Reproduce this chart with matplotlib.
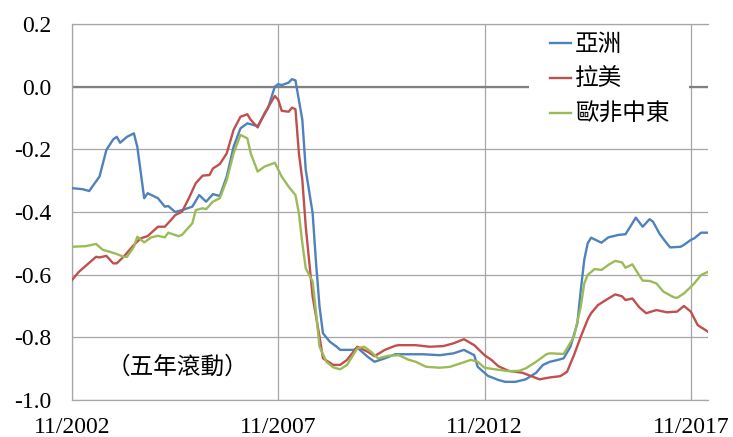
import matplotlib
matplotlib.use("Agg")
import matplotlib.pyplot as plt
from matplotlib.patches import Rectangle

plt.rcParams['axes.unicode_minus'] = False

# months counted from 11/2002, five-year rolling correlation
months_asia = [0, 3, 5, 8, 10, 12, 13, 14, 16, 18, 19, 21, 22, 25, 27, 28, 30, 32, 35, 37,
               39, 41, 43, 45, 47, 49, 51, 54, 57, 59, 60, 61, 63, 64, 65, 67, 68, 70, 71, 72,
               73, 75, 77, 78, 82, 83, 86, 88, 91, 94, 102, 107, 111, 114, 117, 118, 121, 124, 126, 129,
               132, 135, 137, 139, 141, 143, 145, 147, 148, 149, 150, 151, 154, 156, 159, 161, 163, 164, 166, 168,
               169, 171, 173, 174, 177, 178, 180, 181, 183, 185]
asia = [-0.324, -0.327, -0.333, -0.287, -0.202, -0.168, -0.160, -0.179, -0.160, -0.149,
        -0.192, -0.356, -0.340, -0.356, -0.383, -0.381, -0.400, -0.394, -0.383, -0.346,
        -0.367, -0.343, -0.349, -0.287, -0.192, -0.133, -0.117, -0.126, -0.069, 0.000,
        0.008, 0.005, 0.013, 0.024, 0.020, -0.106, -0.266, -0.404, -0.564, -0.702,
        -0.787, -0.814, -0.830, -0.840, -0.840, -0.833, -0.862, -0.878, -0.867, -0.854,
        -0.854, -0.857, -0.851, -0.840, -0.857, -0.894, -0.923, -0.936, -0.942, -0.942,
        -0.934, -0.913, -0.888, -0.878, -0.873, -0.867, -0.830, -0.755, -0.649, -0.553,
        -0.500, -0.482, -0.498, -0.481, -0.473, -0.471, -0.436, -0.418, -0.447, -0.423,
        -0.431, -0.471, -0.500, -0.513, -0.511, -0.505, -0.489, -0.484, -0.466, -0.466]

months_latam = [0, 2, 7, 8, 10, 12, 13, 15, 18, 20, 22, 25, 27, 29, 30, 32, 34, 36, 38, 40,
                41, 43, 45, 47, 49, 51, 52, 54, 56, 59, 60, 61, 63, 64, 65, 66, 67, 68, 70, 72,
                73, 76, 78, 80, 83, 86, 88, 91, 94, 95, 100, 104, 108, 111, 114, 117, 120, 122, 124, 127,
                131, 136, 139, 142, 144, 146, 148, 150, 151, 153, 155, 158, 160, 161, 163, 165, 167, 170, 173, 176,
                178, 180, 182, 185]
latam = [-0.617, -0.591, -0.543, -0.545, -0.540, -0.564, -0.564, -0.543, -0.505, -0.484,
         -0.477, -0.447, -0.447, -0.423, -0.410, -0.399, -0.356, -0.308, -0.284, -0.282,
         -0.261, -0.247, -0.213, -0.138, -0.096, -0.088, -0.106, -0.130, -0.085, -0.030,
         -0.042, -0.077, -0.080, -0.067, -0.072, -0.213, -0.298, -0.447, -0.670, -0.798,
         -0.867, -0.888, -0.888, -0.872, -0.830, -0.846, -0.860, -0.840, -0.827, -0.825,
         -0.825, -0.830, -0.828, -0.819, -0.806, -0.825, -0.857, -0.872, -0.892, -0.907,
         -0.913, -0.934, -0.928, -0.924, -0.910, -0.857, -0.798, -0.743, -0.723, -0.697,
         -0.683, -0.663, -0.669, -0.681, -0.676, -0.704, -0.723, -0.713, -0.720, -0.718,
         -0.700, -0.718, -0.761, -0.782]

months_emea = [0, 4, 7, 9, 11, 13, 15, 16, 18, 19, 21, 23, 25, 27, 28, 31, 32, 35, 36, 38,
               39, 41, 43, 45, 47, 49, 51, 52, 54, 56, 58, 59, 61, 63, 65, 66, 67, 68, 70, 71,
               72, 74, 76, 78, 80, 83, 85, 87, 89, 92, 95, 98, 100, 103, 107, 110, 113, 116, 118, 120,
               123, 127, 130, 132, 135, 138, 139, 143, 144, 146, 148, 149, 150, 152, 154, 156, 158, 160, 161, 163,
               164, 166, 168, 170, 172, 175, 176, 178, 180, 181, 183, 185]
emea = [-0.511, -0.509, -0.502, -0.521, -0.527, -0.534, -0.543, -0.543, -0.511, -0.479,
        -0.497, -0.481, -0.476, -0.481, -0.466, -0.477, -0.473, -0.436, -0.394, -0.388,
        -0.391, -0.367, -0.356, -0.298, -0.213, -0.154, -0.165, -0.213, -0.271, -0.255,
        -0.247, -0.243, -0.287, -0.319, -0.346, -0.404, -0.500, -0.580, -0.622, -0.723,
        -0.830, -0.878, -0.896, -0.902, -0.888, -0.835, -0.830, -0.846, -0.867, -0.859,
        -0.857, -0.872, -0.878, -0.894, -0.897, -0.894, -0.883, -0.872, -0.878, -0.897,
        -0.902, -0.908, -0.907, -0.899, -0.878, -0.854, -0.851, -0.853, -0.835, -0.798,
        -0.702, -0.628, -0.601, -0.582, -0.585, -0.569, -0.556, -0.561, -0.578, -0.567,
        -0.585, -0.619, -0.620, -0.628, -0.654, -0.672, -0.674, -0.660, -0.639, -0.628,
        -0.601, -0.591]

series_names = ['亞洲', '拉美', '歐非中東']
xtick_pos = [0, 60, 120, 180]
xtick_labels = ['11/2002', '11/2007', '11/2012', '11/2017']
ytick_pos = [0.2, 0.0, -0.2, -0.4, -0.6, -0.8, -1.0]
ytick_labels = ['0.2', '0.0', '-0.2', '-0.4', '-0.6', '-0.8', '-1.0']

cjk = 'Noto Sans CJK TC'
grid_color = '#a6a6a6'

fig = plt.figure(figsize=(7.33, 4.37), dpi=100)
ax = fig.add_axes([72 / 733, 37 / 437, 636 / 733, 376 / 437])

ax.plot(months_asia, asia, color='#4f81bd', lw=1.7, label=series_names[0], zorder=3)
ax.plot(months_latam, latam, color='#c0504d', lw=1.7, label=series_names[1], zorder=3)
ax.plot(months_emea, emea, color='#9bbb59', lw=1.7, label=series_names[2], zorder=3)

ax.set_xlim(0, 185)
ax.set_ylim(-1.0, 0.2)
ax.set_xticks(xtick_pos)
ax.set_xticklabels(xtick_labels)
ax.set_yticks(ytick_pos)
ax.set_yticklabels(ytick_labels)
ax.tick_params(axis='both', length=0, labelsize=17)
ax.tick_params(axis='x', pad=12)
ax.tick_params(axis='y', pad=15)
for lab in ax.get_xticklabels() + ax.get_yticklabels():
    lab.set_fontfamily('Liberation Serif')

ax.grid(True, color=grid_color, lw=0.9)
ax.set_axisbelow(True)
ax.axhline(0, color='#808080', lw=1.6, zorder=2)

for side in ['left', 'bottom', 'top']:
    ax.spines[side].set_color(grid_color)
    ax.spines[side].set_linewidth(0.9)
ax.spines['right'].set_visible(False)

# white block behind the legend (hides the zero line there)
ax.add_patch(Rectangle((0.7186, 0.739), 0.2516, 0.25, transform=ax.transAxes,
                       facecolor='white', edgecolor='none', zorder=4))

leg = ax.legend(loc='upper left', bbox_to_anchor=(478 / 636, 0.975), borderaxespad=0,
                frameon=False, prop={'family': cjk, 'size': 17}, handlelength=0.9,
                handletextpad=0.17, labelspacing=0.5, borderpad=0)
leg.set_zorder(5)

ax.text(0.055, 0.088, '（五年滾動）', transform=ax.transAxes, fontsize=17,
        family=cjk, ha='left', va='center')

fig.savefig('out.png', dpi=100)
